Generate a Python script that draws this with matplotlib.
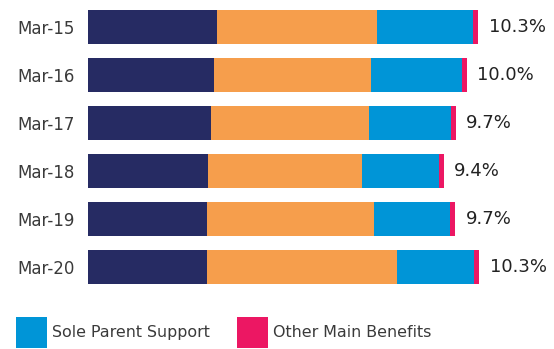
import matplotlib
matplotlib.use("Agg")
import matplotlib.pyplot as plt
from matplotlib.patches import Patch

categories = ["Mar-15", "Mar-16", "Mar-17", "Mar-18", "Mar-19", "Mar-20"]
series_names = ["Jobseeker Support", "Supported Living Payment", "Sole Parent Support", "Other Main Benefits"]
jobseeker = [3.41, 3.32, 3.25, 3.17, 3.14, 3.14]
supported_living = [4.23, 4.15, 4.17, 4.07, 4.41, 5.02]
sole_parent = [2.54, 2.41, 2.17, 2.03, 2.02, 2.03]
other_main = [0.13, 0.12, 0.12, 0.13, 0.13, 0.14]
total_labels = ["10.3%", "10.0%", "9.7%", "9.4%", "9.7%", "10.3%"]

colors = ["#262B63", "#F69E4C", "#0095D7", "#EC1763"]
text_color = "#3a3a3a"

W, H = 554, 349
fig = plt.figure(figsize=(W / 100, H / 100), dpi=100)
ax = fig.add_axes([88 / W, 1 - 290.8 / H, 466 / W, 288 / H])

series = [jobseeker, supported_living, sole_parent, other_main]
y = list(range(len(categories)))
left = [0.0] * len(categories)
for vals, name, c in zip(series, series_names, colors):
    ax.barh(y, vals, left=left, height=0.7, color=c, label=name, linewidth=0)
    left = [l + v for l, v in zip(left, vals)]

for yi, tot, lab in zip(y, left, total_labels):
    ax.annotate(lab, xy=(tot, yi), xytext=(7.5, 0), textcoords="offset points",
                va="center", ha="left", fontsize=13, color="#222222")

scale = 390 / 10.3
ax.set_xlim(0, 466 / scale)
ax.set_ylim(5.5, -0.5)
ax.set_yticks(y)
ax.set_yticklabels(categories, fontsize=12, color=text_color)
ax.tick_params(axis="y", length=0, pad=9.5)
ax.set_xticks([])
for s in ax.spines.values():
    s.set_visible(False)

handles = [Patch(facecolor=colors[2], edgecolor="none"), Patch(facecolor=colors[3], edgecolor="none")]
fig.legend(handles, [series_names[2], series_names[3]], loc="upper left",
           bbox_to_anchor=(16 / W, 1 - 317 / H), ncol=2, frameon=False,
           fontsize=11.4, handlelength=1.96, handleheight=2.65, handletextpad=0.32,
           columnspacing=1.7, borderpad=0, borderaxespad=0, labelcolor=text_color)

fig.savefig("out.png", dpi=100)
